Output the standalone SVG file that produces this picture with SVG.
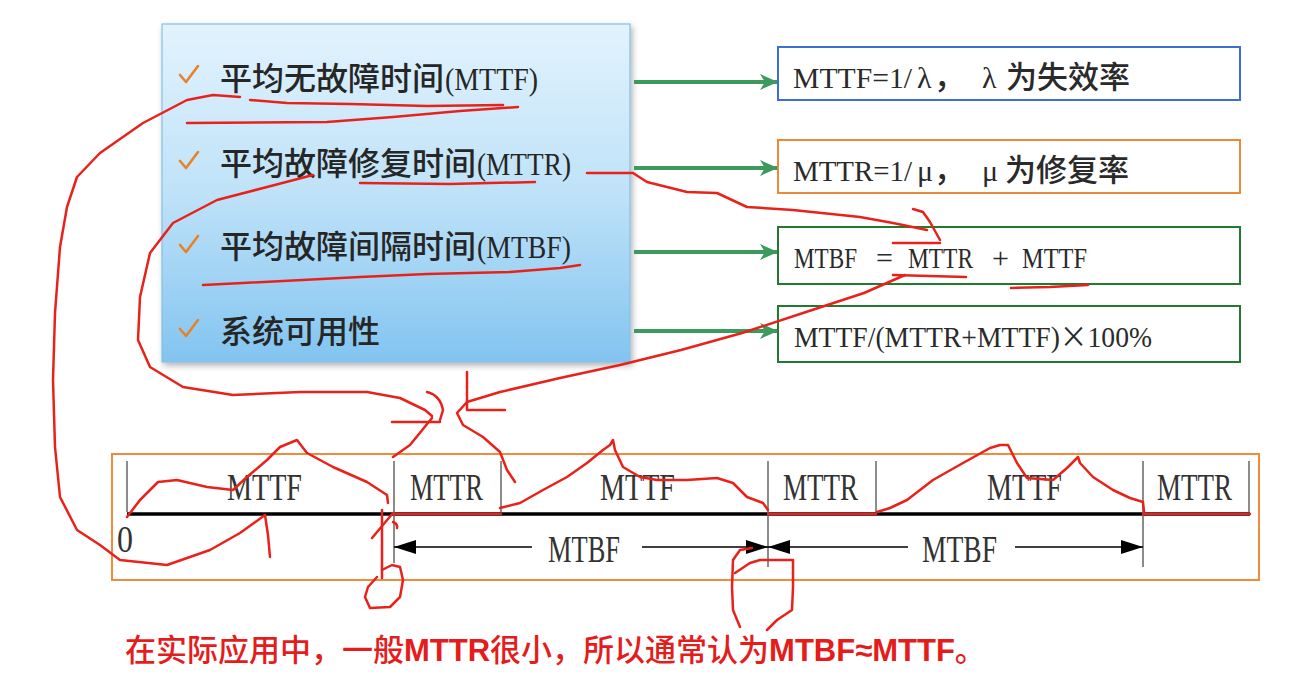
<svg xmlns="http://www.w3.org/2000/svg" width="1312" height="676" viewBox="0 0 1312 676">
<defs>
<linearGradient id="blueGrad" x1="0" y1="0" x2="0" y2="1">
<stop offset="0" stop-color="#e2f3fd"/>
<stop offset="0.5" stop-color="#bfe2f8"/>
<stop offset="1" stop-color="#82c4f0"/>
</linearGradient>
<filter id="shadow" x="-5%" y="-5%" width="112%" height="115%">
<feDropShadow dx="2" dy="3" stdDeviation="3" flood-color="#000" flood-opacity="0.3"/>
</filter>
<marker id="greenHead" markerUnits="userSpaceOnUse" markerWidth="18" markerHeight="18" viewBox="0 0 18 18" refX="17" refY="9" orient="auto">
<path d="M0,1 L18,9 L0,17 L5,9 z" fill="#3c9a5c"/>
</marker>
<marker id="blackHead" markerUnits="userSpaceOnUse" markerWidth="22" markerHeight="14" viewBox="0 0 22 14" refX="22" refY="7" orient="auto-start-reverse">
<path d="M0,0 L22,7 L0,14 z" fill="#000"/>
</marker>
</defs>
<style>
.cjk{font-family:"Noto Sans CJK SC","Noto Sans",sans-serif;fill:#262626;font-weight:500}
.lat{font-family:"Liberation Serif","Noto Sans CJK SC",serif;fill:#262626}
.rtxt{font-family:"Liberation Serif","Noto Sans CJK SC",serif;fill:#2a2a2a;font-size:30px}
.rcjk{font-family:"Noto Sans CJK SC",sans-serif;fill:#2a2a2a;font-size:31px;font-weight:500}
.check{fill:none;stroke:#e8822a;stroke-width:2.6;stroke-linecap:round;stroke-linejoin:round}
.garrow{stroke:#3c9a5c;stroke-width:4;fill:none}
.tick{stroke:#666;stroke-width:1.5}
.tl{font-family:"Liberation Serif",serif;font-size:38px;fill:#333}
.dim{stroke:#000;stroke-width:1.3;fill:none}
.red{fill:none;stroke:#e8221b;stroke-width:2.5;stroke-linecap:round;stroke-linejoin:round}
.note{font-family:"Noto Sans CJK SC",sans-serif;font-size:31px;fill:#e51c1c;font-weight:500}
.noteb{font-family:"Liberation Sans",sans-serif;font-weight:700}
</style>
<rect width="1312" height="676" fill="#ffffff"/>

<g id="left-panel">
<rect x="162" y="24" width="468" height="338" fill="url(#blueGrad)" stroke="#80c0e8" stroke-width="1.2" filter="url(#shadow)"/>
<path class="check" d="M180,75 L186,82 L198,66"/>
<path class="check" d="M180,161 L186,168 L198,152"/>
<path class="check" d="M180,245 L186,252 L198,236"/>
<path class="check" d="M180,329 L186,336 L198,320"/>
<text class="cjk" x="220" y="90" font-size="32">平均无故障时间</text>
<text class="lat" x="445" y="90" font-size="32" textLength="93" lengthAdjust="spacingAndGlyphs">(MTTF)</text>
<text class="cjk" x="220" y="175" font-size="32">平均故障修复时间</text>
<text class="lat" x="477" y="175" font-size="32" textLength="94" lengthAdjust="spacingAndGlyphs">(MTTR)</text>
<text class="cjk" x="220" y="258" font-size="32">平均故障间隔时间</text>
<text class="lat" x="477" y="258" font-size="32" textLength="94" lengthAdjust="spacingAndGlyphs">(MTBF)</text>
<text class="cjk" x="220" y="343" font-size="32">系统可用性</text>
</g>

<g id="box-mttf">
<rect x="778" y="47" width="462" height="53" fill="#fff" stroke="#3b6fd6" stroke-width="2"/>
<text class="rtxt" x="793" y="88" textLength="119" lengthAdjust="spacingAndGlyphs">MTTF=1/</text>
<text class="rtxt" x="917" y="88">λ</text>
<text class="rcjk" x="934" y="88" font-size="30">，</text>
<text class="rtxt" x="982" y="88">λ</text>
<text class="rcjk" x="1006" y="88">为失效率</text>
</g>

<g id="box-mttr">
<rect x="778" y="140" width="462" height="53" fill="#fff" stroke="#ed8a3a" stroke-width="2"/>
<text class="rtxt" x="793" y="181" textLength="119" lengthAdjust="spacingAndGlyphs">MTTR=1/</text>
<text class="rtxt" x="917" y="181">μ</text>
<text class="rcjk" x="934" y="181" font-size="30">，</text>
<text class="rtxt" x="982" y="181">μ</text>
<text class="rcjk" x="1005" y="181">为修复率</text>
</g>

<g id="box-mtbf">
<rect x="778" y="227" width="462" height="57" fill="#fff" stroke="#217a30" stroke-width="2"/>
<text class="rtxt" x="794" y="268" textLength="63" lengthAdjust="spacingAndGlyphs">MTBF</text>
<text class="rtxt" x="876" y="268">=</text>
<text class="rtxt" x="908" y="268" textLength="65" lengthAdjust="spacingAndGlyphs">MTTR</text>
<text class="rtxt" x="992" y="268">+</text>
<text class="rtxt" x="1022" y="268" textLength="65" lengthAdjust="spacingAndGlyphs">MTTF</text>
</g>

<g id="box-availability">
<rect x="778" y="306" width="462" height="56" fill="#fff" stroke="#217a30" stroke-width="2"/>
<text class="rtxt" x="794" y="347" textLength="358" lengthAdjust="spacingAndGlyphs">MTTF/(MTTR+MTTF)<tspan style="font-family:'Noto Sans CJK SC',sans-serif">×</tspan>100%</text>
</g>

<g id="connectors">
<line class="garrow" x1="634" y1="82" x2="777" y2="82" marker-end="url(#greenHead)"/>
<line class="garrow" x1="634" y1="168" x2="777" y2="168" marker-end="url(#greenHead)"/>
<line class="garrow" x1="634" y1="252" x2="777" y2="252" marker-end="url(#greenHead)"/>
<line class="garrow" x1="634" y1="331" x2="777" y2="331" marker-end="url(#greenHead)"/>
</g>

<g id="timeline">
<rect x="112" y="454" width="1147" height="126" fill="#fff" stroke="#f08a3c" stroke-width="2"/>
<line x1="127" y1="514" x2="1250" y2="514" stroke="#000" stroke-width="3.5"/>
<line class="tick" x1="127" y1="461" x2="127" y2="512"/>
<line class="tick" x1="394" y1="461" x2="394" y2="563"/>
<line class="tick" x1="501" y1="461" x2="501" y2="512"/>
<line class="tick" x1="768" y1="461" x2="768" y2="567"/>
<line class="tick" x1="876" y1="461" x2="876" y2="512"/>
<line class="tick" x1="1143" y1="461" x2="1143" y2="567"/>
<line class="tick" x1="1249" y1="461" x2="1249" y2="512"/>
<text class="tl" x="227" y="500" textLength="75" lengthAdjust="spacingAndGlyphs">MTTF</text>
<text class="tl" x="410" y="500" textLength="73" lengthAdjust="spacingAndGlyphs">MTTR</text>
<text class="tl" x="600" y="500" textLength="75" lengthAdjust="spacingAndGlyphs">MTTF</text>
<text class="tl" x="783" y="500" textLength="75" lengthAdjust="spacingAndGlyphs">MTTR</text>
<text class="tl" x="987" y="500" textLength="75" lengthAdjust="spacingAndGlyphs">MTTF</text>
<text class="tl" x="1157" y="500" textLength="75" lengthAdjust="spacingAndGlyphs">MTTR</text>
<text class="tl" x="117" y="552" textLength="16" lengthAdjust="spacingAndGlyphs">0</text>
<line class="dim" x1="394" y1="547" x2="532" y2="547" marker-start="url(#blackHead)"/>
<line class="dim" x1="642" y1="547" x2="768" y2="547" marker-end="url(#blackHead)"/>
<text class="tl" x="548" y="562" textLength="72" lengthAdjust="spacingAndGlyphs">MTBF</text>
<line class="dim" x1="768" y1="547" x2="908" y2="547" marker-start="url(#blackHead)"/>
<line class="dim" x1="1015" y1="547" x2="1143" y2="547" marker-end="url(#blackHead)"/>
<text class="tl" x="922" y="562" textLength="75" lengthAdjust="spacingAndGlyphs">MTBF</text>
</g>

<g id="note">
<text class="note" x="125" y="661">在实际应用中，一般<tspan class="noteb">MTTR</tspan>很小，所以通常认为<tspan class="noteb">MTBF≈MTTF</tspan>。</text>
</g>

<g id="annotations">
<path class="red" d="M240,97 L213,95 L187,100 L143,123 L100,153 L77,177 L67,207 L60,247 L55,313 L53,380 L55,447 L60,497 L77,530 L100,545 L120,560 L167,565 L210,550 L240,533 L265,515"/>
<path class="red" d="M265,515 L268,535 L270,557"/>
<path class="red" d="M250,100 L287,103 L350,104 L427,106 L503,105"/>
<path class="red" d="M187,123 L327,122 L393,117 L460,111 L518,107"/>
<path class="red" d="M360,183 L450,184 L535,182"/>
<path class="red" d="M313,175 L267,187 L217,200 L173,223 L150,253 L140,297 L138,340 L150,367 L183,387 L233,395 L300,392 L367,392 L400,398 L425,410 L432,416"/>
<path class="red" d="M432,418 L410,445 L393,457"/>
<path class="red" d="M427,392 Q440,395 443,410 L440,420"/>
<path class="red" d="M392,422 L440,422"/>
<path class="red" d="M467,372 L467,410 L505,410"/>
<path class="red" d="M905,275 L864,293 L803,313 L742,333 L681,350 L620,365 L560,378 L500,392 L467,402 L457,413 L463,425 L483,437 L500,452 L507,470 L515,482"/>
<path class="red" d="M587,173 L633,173 L647,182 L687,192 L717,193 L747,207 L793,210 L860,217 L893,223 L927,230"/>
<path class="red" d="M913,209 L923,212 L930,222 L940,240"/>
<path class="red" d="M893,243 L940,243"/>
<path class="red" d="M893,275 L966,277"/>
<path class="red" d="M1011,288 L1050,287 L1088,285"/>
<path class="red" d="M203,285 L243,283 L360,277 L427,274 L510,272 L560,268 L580,265"/>
<path class="red" d="M127,517 L140,500 L158,482 L177,480 L207,487 L233,490 L247,477 L267,460 L280,447 L297,440 L307,453 L333,467 L367,482 L387,495 L388,503"/>
<path class="red" d="M394,514 L501,514" stroke-width="3"/>
<path class="red" d="M382,510 L382,578"/>
<path class="red" d="M372,538 L393,513"/>
<path class="red" d="M393,522 Q398,524 397,528"/>
<path class="red" d="M382,570 L392,565 L400,567 L403,580 L400,597 L390,607 L370,608 L365,597 L368,587 L377,577"/>
<path class="red" d="M500,508 L520,503 L543,490 L567,477 L587,463 L603,450 L610,445 L613,440 L615,450 L623,467 L640,477 L657,480 L687,480 L717,478 L733,483 L747,497 L763,503 L768,510"/>
<path class="red" d="M768,514 L876,514" stroke-width="3"/>
<path class="red" d="M877,512 L890,508 L907,500 L933,480 L963,463 L990,448 L1000,445 L1008,445 L1017,463 L1027,478 L1053,480 L1067,468 L1078,457 L1080,463 L1093,477 L1113,490 L1130,498 L1143,502 L1144,512"/>
<path class="red" d="M1143,514 L1250,514" stroke-width="3"/>
<path class="red" d="M752,548 L740,550 L733,560 L732,587 L733,610 L740,627"/>
<path class="red" d="M735,573 L750,563 L760,560 L793,560 L793,587 L792,610 L777,620 L767,630"/>
</g>
</svg>
